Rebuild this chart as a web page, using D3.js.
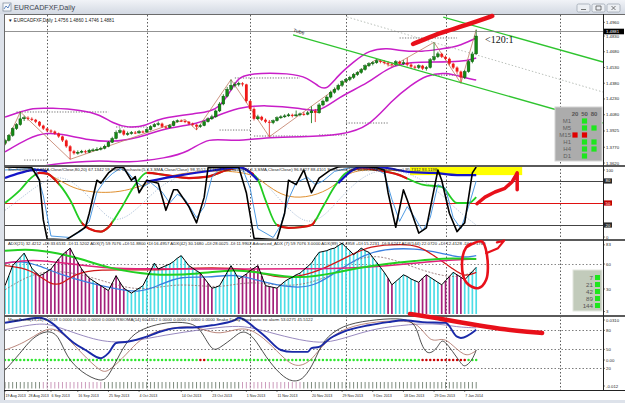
<!DOCTYPE html>
<html>
<head>
<meta charset="utf-8">
<script src="https://cdnjs.cloudflare.com/ajax/libs/d3/7.8.5/d3.min.js"></script>
<style>
html, body { margin: 0; padding: 0; background: #dde2ea; overflow: hidden; }
svg { display: block; }
</style>
</head>
<body>
<div id="chart"></div>
<script>
// --- candles (EURCADFXF daily, 19 Aug 2013 .. 10 Jan 2014)
var firstOpen = 1.3807;
var closes = [
  1.3835,1.3882,1.3948,1.3985,1.4041,1.4051,1.4041,1.4032,1.4013,1.3976,
  1.3948,1.3929,1.3920,1.3901,1.3873,1.3835,1.3779,1.3732,1.3713,1.3723,
  1.3732,1.3723,1.3742,1.3745,1.3751,1.3760,1.3779,1.3817,1.3854,1.3910,
  1.3929,1.3891,1.3901,1.3910,1.3906,1.3920,1.3915,1.3938,1.3966,1.3985,
  1.3995,1.3966,1.3957,1.3976,1.4013,1.4023,1.4020,1.4013,1.3995,1.3985,
  1.3966,1.3976,1.4013,1.4041,1.4060,1.4116,1.4182,1.4257,1.4322,1.4360,
  1.4369,1.4379,1.4369,1.4210,1.4135,1.4041,1.4060,1.4032,1.4013,1.4004,
  1.4023,1.4051,1.4060,1.4069,1.4079,1.4069,1.4079,1.4088,1.4085,1.4098,
  1.4116,1.4098,1.4173,1.4210,1.4248,1.4294,1.4322,1.4360,1.4397,1.4416,
  1.4435,1.4463,1.4482,1.4510,1.4547,1.4566,1.4575,1.4594,1.4585,1.4575,
  1.4566,1.4557,1.4585,1.4566,1.4575,1.4557,1.4538,1.4529,1.4547,1.4519,
  1.4529,1.4604,1.4632,1.4660,1.4632,1.4613,1.4566,1.4529,1.4491,1.4435,
  1.4491,1.4585,1.4660,1.4830
];
var highs = [
  1.3850,1.3895,1.3960,1.4000,1.4107,1.4070,1.4065,1.4055,1.4040,1.4020,
  1.3985,1.3955,1.3940,1.3930,1.3910,1.3880,1.3845,1.3790,1.3745,1.3740,
  1.3745,1.3745,1.3755,1.3760,1.3770,1.3775,1.3795,1.3830,1.3870,1.3930,
  1.3950,1.3940,1.3920,1.3925,1.3925,1.3935,1.3930,1.3950,1.3980,1.4000,
  1.4015,1.4005,1.3975,1.3990,1.4025,1.4035,1.4035,1.4030,1.4020,1.4005,
  1.3990,1.3990,1.4025,1.4055,1.4080,1.4130,1.4200,1.4275,1.4345,1.4415,
  1.4390,1.4395,1.4390,1.4375,1.4220,1.4150,1.4080,1.4070,1.4045,1.4030,
  1.4035,1.4065,1.4075,1.4085,1.4095,1.4090,1.4120,1.4100,1.4105,1.4115,
  1.4160,1.4135,1.4190,1.4225,1.4265,1.4310,1.4340,1.4375,1.4410,1.4430,
  1.4450,1.4478,1.4495,1.4525,1.4560,1.4580,1.4590,1.4610,1.4605,1.4600,
  1.4590,1.4580,1.4600,1.4595,1.4600,1.4620,1.4570,1.4550,1.4560,1.4555,
  1.4545,1.4620,1.4770,1.4680,1.4670,1.4645,1.4625,1.4575,1.4540,1.4500,
  1.4505,1.4600,1.4680,1.4890
];
var lows = [
  1.3790,1.3825,1.3870,1.3935,1.3975,1.4020,1.4025,1.4020,1.4000,1.3965,
  1.3935,1.3915,1.3905,1.3890,1.3860,1.3820,1.3765,1.3655,1.3700,1.3700,
  1.3712,1.3710,1.3715,1.3730,1.3735,1.3740,1.3750,1.3770,1.3810,1.3845,
  1.3900,1.3880,1.3880,1.3890,1.3895,1.3900,1.3905,1.3910,1.3930,1.3960,
  1.3975,1.3955,1.3945,1.3950,1.3970,1.4005,1.4010,1.4000,1.3985,1.3970,
  1.3935,1.3955,1.3970,1.4005,1.4030,1.4050,1.4105,1.4170,1.4245,1.4310,
  1.4340,1.4350,1.4350,1.4195,1.4120,1.4025,1.4030,1.4020,1.4000,1.3870,
  1.3990,1.4015,1.4040,1.4050,1.4060,1.4055,1.4060,1.4065,1.4070,1.4075,
  1.4000,1.4010,1.4090,1.4160,1.4200,1.4235,1.4280,1.4310,1.4345,1.4385,
  1.4400,1.4420,1.4450,1.4470,1.4500,1.4535,1.4550,1.4565,1.4570,1.4560,
  1.4540,1.4540,1.4545,1.4550,1.4555,1.4540,1.4525,1.4510,1.4515,1.4505,
  1.4500,1.4520,1.4590,1.4620,1.4620,1.4600,1.4550,1.4515,1.4470,1.4380,
  1.4420,1.4480,1.4570,1.4650
];

// --- main panel overlays [bar, price]
var bbUpper = [[0,1.4058],[4,1.4106],[7,1.4144],[12,1.4144],[20,1.4125],[25,1.4077],[28,1.4001],[32,1.3953],[37,1.3972],[40,1.4049],[51,1.4096],[56,1.4125],[60,1.4382],[62,1.4477],[75,1.4477],[79,1.4430],[82,1.4344],[84,1.4315],[87,1.4458],[91,1.4582],[95,1.4697],[100,1.4716],[103,1.4690],[109,1.4678],[114,1.4710],[118,1.4725],[123,1.4811]];
var bbMid = [[0,1.3725],[6,1.3858],[11,1.3915],[16,1.3887],[22,1.3839],[27,1.3820],[32,1.3839],[37,1.3887],[42,1.3953],[49,1.3982],[54,1.4049],[61,1.4153],[68,1.4172],[77,1.4144],[82,1.4096],[87,1.4249],[95,1.4382],[100,1.4535],[106,1.4582],[112,1.4582],[119,1.4582],[123,1.4620]];
var bbLower = [[0,1.3420],[5,1.3520],[10,1.3601],[16,1.3620],[25,1.3648],[32,1.3620],[42,1.3667],[48,1.3725],[53,1.3867],[60,1.3820],[68,1.3867],[77,1.3867],[88,1.3887],[95,1.3963],[101,1.4220],[106,1.4363],[110,1.4458],[115,1.4487],[120,1.4430],[123,1.4411]];
var channelSteps = [[3,27,1.4106],[29,37,1.3963],[5,11,1.3648],[56,64,1.3934],[65,79,1.3877],[60,77,1.4430],[82,89,1.3887],[89,100,1.4001],[103,118,1.4811],[111,119,1.4458]];
var zigzag = [[0,1.3790],[4,1.4107],[17,1.3655],[47,1.4035],[50,1.3935],[59,1.4415],[69,1.3870],[97,1.4610],[101,1.4540],[112,1.4770],[119,1.4380],[123,1.4890]];
var trendUpper = [[114.4,1.5011],[156.1,1.4582]];
var trendLower = [[75.2,1.4840],[156.1,1.4001]];
var trendMiddle = [[89.3,1.5011],[156.1,1.4296]];
var priceTicks = [1.4960,1.4830,1.4680,1.4530,1.4380,1.4230,1.4080,1.3925,1.3770,1.3620];
var bidPrice = 1.4881;

// --- stochastic panel [bar, value]
var stochFast = [[0,99],[7,98],[9,81],[10,27],[11,1],[16,0],[19,10],[21,17],[22,36],[24,81],[25,77],[27,91],[29,99],[31,98],[33,81],[34,86],[35,64],[37,81],[40,77],[42,40],[44,68],[45,68],[48,45],[50,23],[52,58],[53,98],[61,99],[63,64],[65,2],[71,0],[73,36],[74,81],[76,75],[78,95],[80,64],[82,84],[85,95],[87,99],[90,100],[95,99],[97,98],[99,95],[100,64],[102,17],[104,68],[105,54],[108,9],[110,16],[113,95],[114,81],[116,36],[118,11],[120,23],[122,91],[123,99]];
var stochSignal = [[0,95],[8,97],[10,60],[12,5],[17,3],[20,12],[22,25],[24,65],[26,80],[28,90],[30,97],[32,92],[34,80],[36,72],[38,78],[41,65],[43,50],[45,62],[47,55],[50,30],[52,45],[54,85],[56,97],[62,97],[64,70],[66,15],[70,3],[72,20],[74,55],[76,78],[79,85],[81,75],[83,80],[86,93],[90,98],[96,98],[99,90],[101,55],[103,25],[105,45],[107,30],[109,12],[111,30],[113,75],[115,70],[117,30],[119,15],[121,45],[123,80]];
var stochSlow = [[0,50],[4,68],[7,85],[9,91],[11,90],[13,82],[17,54],[20,23],[22,15],[25,11],[27,17],[30,40],[34,75],[37,91],[42,88],[48,84],[53,86],[58,95],[61,98],[64,92],[66,82],[68,54],[71,20],[74,16],[77,17],[80,20],[83,45],[86,72],[89,91],[93,97],[97,95],[103,88],[106,81],[109,75],[114,72],[118,50],[121,50],[123,58]];
var stochSlowRed = [[8,14],[20,28],[37,65],[71,81],[90,105]];
var stochOrange = [[10,91],[13,85],[17,72],[21,66],[25,64],[30,65],[35,72],[40,82],[45,90],[55,95],[64,91],[67,80],[70,68],[74,57],[80,58],[86,72],[89,91],[95,97],[105,93],[112,90],[118,88],[123,88]];
var stochLong = [[0,40],[5,60],[10,80],[15,88],[20,70],[25,40],[28,25],[32,30],[37,55],[42,80],[50,95],[60,97],[66,88],[70,65],[76,30],[80,22],[84,35],[88,60],[94,90],[100,97],[106,90],[112,72],[118,40],[123,20]];
var stochBlue = [
  [[0,84],[4,91],[8,95],[11,93]],
  [[37,79],[46,88],[55,95],[61,99],[66,81]],
  [[87,77],[93,99],[99,98],[106,92],[112,91],[118,88],[123,88]]
];
var stochTicks = [100,80,50,20,0];

// --- ADX panel
var adxHist = [
  34,46,58,63,68,73,64,55,50,46,
  48,51,54,60,66,71,75,79,70,62,
  54,48,43,40,37,34,31,28,37,46,
  38,31,28,25,28,31,34,43,52,61,
  54,56,58,60,63,67,70,64,58,55,
  52,49,43,37,31,32,34,42,50,58,
  50,42,45,48,52,55,58,46,34,33,
  32,31,35,39,42,44,47,49,53,57,
  61,68,74,75,76,78,79,82,85,80,
  76,71,75,79,76,74,68,62,56,50,
  43,35,39,43,47,45,42,40,38,43,
  47,44,41,38,35,40,45,50,47,44,
  41,46,51,56
];
var adxBearRanges = [[8,22],[24,31],[51,54],[61,71],[100,101],[108,110],[114,116],[118,119]];
var adxGreen = [[0,76],[7,78],[14,73],[20,66],[27,55],[38,46],[51,48],[60,54],[67,49],[77,42],[86,49],[95,58],[108,64],[114,67],[123,66]];
var adxPink = [[0,61],[7,66],[16,61],[25,55],[38,54],[51,54],[64,54],[77,54],[95,55],[112,64],[123,66]];
var adxRed = [[0,58],[7,54],[12,34],[15,36],[18,48],[24,54],[38,52],[51,56],[60,55],[64,53],[70,44],[77,44],[84,56],[90,70],[95,82],[104,84],[108,82],[112,70],[117,54],[120,44],[123,50]];
var adxBlue = [[0,61],[4,64],[9,58],[14,48],[22,37],[28,31],[35,25],[40,34],[46,46],[53,43],[60,49],[68,37],[77,30],[82,37],[86,49],[93,70],[99,78],[107,79],[114,73],[119,67],[123,70]];
var adxDash = [[0,29],[7,49],[15,53],[25,41],[35,26],[45,38],[56,30],[64,41],[75,30],[86,47],[90,62],[97,74],[108,53],[118,41],[123,53]];
var adxTicks = [83,60,30,3];

// --- bottom panel
var botNavy = [[0,92],[4,96],[9,100],[13,88],[15,76],[18,60],[21,49],[25,36],[27,44],[29,60],[32,62],[37,70],[40,77],[45,84],[50,85],[54,88],[60,96],[61,100],[65,85],[68,70],[72,49],[75,46],[79,46],[80,52],[82,54],[85,68],[88,77],[95,88],[100,93],[104,96],[109,93],[115,92],[118,70],[119,68],[123,81]];
var botPurple = [[0,81],[9,92],[13,88],[25,60],[33,62],[42,73],[51,81],[60,88],[65,84],[73,70],[81,60],[86,62],[95,81],[103,88],[112,92],[118,85],[123,84]];
var botBlack = [[0,17],[4,44],[7,68],[11,81],[14,73],[16,38],[20,13],[25,-2],[27,6],[30,44],[33,73],[37,85],[42,93],[48,93],[51,84],[54,46],[56,52],[60,70],[62,81],[65,70],[68,38],[72,9],[75,-2],[78,2],[81,33],[83,65],[88,88],[95,96],[103,100],[107,93],[108,70],[110,38],[113,52],[114,68],[116,54],[119,28],[120,21],[122,33],[123,49]];
var botBrown = [[0,49],[5,60],[10,81],[13,84],[16,70],[20,44],[25,14],[27,14],[32,44],[35,65],[40,81],[48,88],[52,81],[56,73],[61,84],[65,81],[70,54],[74,28],[77,22],[80,33],[82,50],[87,81],[95,93],[103,96],[108,92],[111,60],[114,68],[116,62],[120,38],[122,44],[123,48]];
var redDotRanges = [[51,52],[109,120]];
var pinkTickRanges = [[10,25],[62,77]];
var botOscTicks = [80,50,20];
var botMacdTicks = [0.0310,0,-0.012];

// --- time axis
var dateLabels = ['19 Aug 2013','28 Aug 2013','6 Sep 2013','16 Sep 2013','25 Sep 2013','4 Oct 2013','14 Oct 2013','23 Oct 2013','1 Nov 2013','11 Nov 2013','20 Nov 2013','29 Nov 2013','9 Dec 2013','18 Dec 2013','29 Dec 2013','7 Jan 2014'];
var dateBars = [0,6,12,19,27,35,46,54,63,71,80,88,96,104,112,120];
var gridBars = [11,37,64,89,115,145];

// --- panel widgets
var mtfRows = ['M1','M5','M15','H1','H4','D1'];
var mtfCols = ['20','50','80'];
var mtfState = [[0,1,0],[0,1,1],[2,2,0],[0,1,1],[0,1,1],[0,1,0]];
var adxPeriods = ['7','21','42','89','144'];

// --- hand drawn marks
var markMain = [[106.5,1.4754],[109.7,1.4801],[113.6,1.4859],[118.8,1.4916],[123.5,1.4973],[127.2,1.5021]];
var markStoch = [[123.2,49],[125.3,58],[127.9,65],[130.5,70],[132.4,79],[133.4,88],[133.7,91],[133.7,68]];
var markAdxRing = [[120.4,80],[124.5,87],[125.8,71],[125.6,41],[123.5,31],[120.4,38],[119.3,62],[120.4,80],[121.5,84]];
var markAdxArrow = [[125.6,73],[128.7,79],[130.3,88],[128.4,86]];
var markBottom = [[105.7,106],[114.1,98],[121.4,90],[129.2,82],[137.1,77.4],[140.2,75.8]];

var FONT = 'Liberation Sans, Arial, sans-serif';

var Chart = {

  draw: function() {
    this.svg = d3.select('#chart').append('svg')
      .attr('width', 625)
      .attr('height', 403)
    ;
    this.defs = this.svg.append('defs');
    this.x = d3.scaleLinear().domain([0, 156.1]).range([5, 603]);
    this.yP = d3.scaleLinear().domain([1.3620, 1.4830]).range([163, 36]);
    this.yS = d3.scaleLinear().domain([0, 100]).range([239.7, 166.3]);
    this.yA = d3.scaleLinear().domain([0, 90]).range([314, 239]);
    this.yB = d3.scaleLinear().domain([0, 100]).range([381, 317.7]);
    this.yM = d3.scaleLinear().domain([-0.012, 0, 0.031]).range([386, 360, 319]);
    this.panels = { main: [15, 165], stoch: [167, 239], adx: [241, 315], bot: [317, 390] };

    this.drawFrame();
    this.drawGrid();
    this.drawMain();
    this.drawStoch();
    this.drawAdx();
    this.drawBottom();
    this.drawAxes();
    this.drawMarks();
  },

  clip: function(id, p) {
    this.defs.append('clipPath').attr('id', id)
      .append('rect')
      .attr('x', 5).attr('y', p[0])
      .attr('width', 598).attr('height', p[1] - p[0])
    ;
    return this.svg.append('g').attr('clip-path', 'url(#' + id + ')');
  },

  line: function(g, data, ys, color, width, curve, dash) {
    var x = this.x;
    return g.append('path').datum(data)
      .attr('d', d3.line()
        .x(function(d){ return x(d[0]); })
        .y(function(d){ return ys(d[1]); })
        .curve(curve || d3.curveMonotoneX))
      .attr('fill', 'none')
      .attr('stroke', color)
      .attr('stroke-width', width)
      .attr('stroke-dasharray', dash || null)
      .attr('stroke-linejoin', 'round')
    ;
  },

  tinyText: function(x, y, s, size, color, anchor) {
    return this.svg.append('text')
      .attr('x', x).attr('y', y)
      .attr('font-family', FONT)
      .attr('font-size', size)
      .attr('fill', color || '#222')
      .attr('text-anchor', anchor || 'start')
      .text(s)
    ;
  },

  drawFrame: function() {
    var svg = this.svg;
    var grad = this.defs.append('linearGradient').attr('id', 'tb')
      .attr('x1', 0).attr('y1', 0).attr('x2', 0).attr('y2', 1);
    grad.append('stop').attr('offset', '0%').attr('stop-color', '#f1f3f7');
    grad.append('stop').attr('offset', '100%').attr('stop-color', '#d3d9e3');
    svg.append('rect').attr('x', 0).attr('y', 0).attr('width', 625).attr('height', 403).attr('fill', '#dde2ea');
    svg.append('rect').attr('x', 0).attr('y', 0).attr('width', 625).attr('height', 14).attr('fill', 'url(#tb)');
    // title icon + caption
    svg.append('rect').attr('x', 3).attr('y', 3).attr('width', 8).attr('height', 8)
      .attr('fill', '#f6f8fb').attr('stroke', '#7a8696').attr('stroke-width', 0.7);
    svg.append('path').attr('d', 'M4,9 L6,6 L8,8 L10,4').attr('fill', 'none')
      .attr('stroke', '#3a6ab0').attr('stroke-width', 0.8);
    this.tinyText(14, 10, 'EURCADFXF,Daily', 7.2, '#3c4450');
    // window buttons
    [577, 592, 607].forEach(function(bx, k) {
      svg.append('rect').attr('x', bx).attr('y', 4).attr('width', 13).attr('height', 8).attr('rx', 1.5)
        .attr('fill', '#eceff3').attr('stroke', '#98a2ae').attr('stroke-width', 0.7);
      var d = k === 0 ? 'M' + (bx+4) + ',9.5 h5' :
              k === 1 ? 'M' + (bx+4) + ',6 h5 v4 h-5 z' :
                        'M' + (bx+4.5) + ',6 l4,4 M' + (bx+8.5) + ',6 l-4,4';
      svg.append('path').attr('d', d).attr('fill', 'none').attr('stroke', '#555').attr('stroke-width', 0.8);
    });
    // chart area
    svg.append('rect').attr('x', 4).attr('y', 14).attr('width', 621).attr('height', 386).attr('fill', '#fff');
    svg.append('line').attr('x1', 4.5).attr('x2', 4.5).attr('y1', 14).attr('y2', 400).attr('stroke', '#6b6b6b');
    svg.append('line').attr('x1', 4).attr('x2', 625).attr('y1', 14.5).attr('y2', 14.5).attr('stroke', '#6b6b6b');
  },

  drawGrid: function() {
    var x = this.x, svg = this.svg;
    svg.selectAll('line.vgrid').data(gridBars).enter()
      .append('line').classed('vgrid', true)
      .attr('x1', function(d){ return Math.round(x(d)) + 0.5; })
      .attr('x2', function(d){ return Math.round(x(d)) + 0.5; })
      .attr('y1', 15).attr('y2', 390)
      .attr('stroke', '#333')
      .attr('stroke-width', 0.8)
      .attr('stroke-dasharray', '1.5,2')
    ;
  },

  drawMain: function() {
    var self = this, x = this.x, yP = this.yP;
    var g = this.clip('clipMain', this.panels.main);

    // channel steps (dotted)
    g.selectAll('line.step').data(channelSteps).enter()
      .append('line').classed('step', true)
      .attr('x1', function(d){ return x(d[0]); })
      .attr('x2', function(d){ return x(d[1]); })
      .attr('y1', function(d){ return yP(d[2]); })
      .attr('y2', function(d){ return yP(d[2]); })
      .attr('stroke', '#333').attr('stroke-width', 0.7).attr('stroke-dasharray', '1.2,1.5')
    ;
    // bollinger
    this.line(g, bbUpper, yP, '#c81ec8', 1.5, d3.curveBasis);
    this.line(g, bbMid, yP, '#c81ec8', 1.5, d3.curveBasis);
    this.line(g, bbLower, yP, '#c81ec8', 1.5, d3.curveBasis);
    // zigzag
    this.line(g, zigzag, yP, '#c07a62', 0.8, d3.curveLinear);

    // candles
    var bars = closes.map(function(c, i) {
      var o = i === 0 ? firstOpen : closes[i - 1];
      return { i: i, o: o, c: c, h: highs[i], l: lows[i], up: c >= o };
    });
    var cg = g.selectAll('g.candle').data(bars).enter().append('g').classed('candle', true);
    cg.append('line')
      .attr('x1', function(d){ return x(d.i); })
      .attr('x2', function(d){ return x(d.i); })
      .attr('y1', function(d){ return yP(d.h); })
      .attr('y2', function(d){ return yP(d.l); })
      .attr('stroke', function(d){ return d.up ? '#0b6e0b' : '#e01010'; })
      .attr('stroke-width', 0.8)
    ;
    cg.append('rect')
      .attr('x', function(d){ return x(d.i) - 1.4; })
      .attr('width', 2.8)
      .attr('y', function(d){ return yP(Math.max(d.o, d.c)); })
      .attr('height', function(d){ return Math.max(1, Math.abs(yP(d.o) - yP(d.c))); })
      .attr('fill', function(d){ return d.up ? '#138a13' : '#f01818'; })
      .attr('stroke', function(d){ return d.up ? '#0a4a0a' : 'none'; })
      .attr('stroke-width', 0.4)
    ;

    // trend channel
    this.line(g, trendUpper, yP, '#2fc42f', 1.3, d3.curveLinear);
    this.line(g, trendLower, yP, '#2fc42f', 1.3, d3.curveLinear);
    this.line(g, trendMiddle, yP, '#a8b0a8', 0.8, d3.curveLinear, '1.5,2');

    // bid line
    this.svg.append('line')
      .attr('x1', 5).attr('x2', 603)
      .attr('y1', Math.round(yP(bidPrice)) + 0.5).attr('y2', Math.round(yP(bidPrice)) + 0.5)
      .attr('stroke', '#777').attr('stroke-width', 0.8)
    ;

    this.tinyText(8, 22, '\u25BC EURCADFXF,Daily  1.4756 1.4860 1.4746 1.4881', 4.6, '#222');
    this.svg.append('text')
      .attr('transform', 'translate(' + x(75.2) + ',' + (yP(1.4860) - 1) + ') rotate(14)')
      .attr('font-family', FONT).attr('font-size', 5).attr('fill', '#222')
      .text('Tube')
    ;
    this.svg.append('text')
      .attr('x', x(125.3)).attr('y', yP(1.4792) + 3)
      .attr('font-family', 'Liberation Serif, Times New Roman, serif')
      .attr('font-size', 10).attr('fill', '#111')
      .text('<120:1')
    ;

    // MTF stochastic box
    var bx = 555, by = 107;
    var colX = [575, 584.5, 594];
    this.svg.append('rect').attr('x', bx).attr('y', by).attr('width', 47).attr('height', 54)
      .attr('fill', '#acacac').attr('stroke', '#d4d4d4').attr('stroke-width', 1);
    mtfCols.forEach(function(c, k) {
      self.tinyText(colX[k], by + 8.5, c, 6, '#555', 'middle').attr('font-weight', 'bold');
    });
    mtfRows.forEach(function(r, j) {
      var ry = by + 14 + j * 7;
      self.tinyText(571, ry + 2.2, r, 6, '#5e5e5e', 'end');
      mtfState[j].forEach(function(s, k) {
        if (!s) { return; }
        self.svg.append('rect').attr('x', colX[k] - 2.6).attr('y', ry - 2.6)
          .attr('width', 5.2).attr('height', 5.2)
          .attr('fill', s === 1 ? '#1ee61e' : '#e00000');
      });
    });
  },

  drawStoch: function() {
    var self = this, x = this.x, yS = this.yS;
    var g = this.clip('clipStoch', this.panels.stoch);

    g.append('rect').attr('x', x(105.7)).attr('y', yS(99)).attr('width', x(135) - x(105.7)).attr('height', yS(88) - yS(99))
      .attr('fill', '#ffff00');

    [[80, '#444'], [50, '#e01010'], [20, '#444']].forEach(function(l) {
      g.append('line').attr('x1', 5).attr('x2', 603)
        .attr('y1', Math.round(yS(l[0])) + 0.5).attr('y2', Math.round(yS(l[0])) + 0.5)
        .attr('stroke', l[1]).attr('stroke-width', 1);
    });

    this.line(g, stochLong, yS, '#8aa6c8', 0.8, d3.curveBasis, '1,1.5');
    this.line(g, stochOrange, yS, '#e09030', 1, d3.curveBasis);
    this.line(g, stochSlow, yS, '#22cc22', 1.8, d3.curveMonotoneX);
    // red parts of the slow line
    var cp = this.defs.append('clipPath').attr('id', 'slowRed');
    stochSlowRed.forEach(function(r) {
      cp.append('rect').attr('x', x(r[0])).attr('y', 160).attr('width', x(r[1]) - x(r[0])).attr('height', 85);
    });
    this.line(g.append('g').attr('clip-path', 'url(#slowRed)'), stochSlow, yS, '#e01010', 2.2, d3.curveMonotoneX);
    this.line(g, stochSignal, yS, '#3a8ee0', 0.9, d3.curveLinear);
    stochBlue.forEach(function(seg) {
      self.line(g, seg, yS, '#1414c8', 2.2, d3.curveMonotoneX);
    });
    this.line(g, stochFast, yS, '#000', 1.6, d3.curveLinear);

    this.tinyText(8, 171, 'Stochastic(5,3,3,SMA,Close/Close,80,20) 67.1342 59.9986   Stochastic(5,3,3,SMA,Close/Close) 98.3512 93.1154   Stochastic(14,3,3,SMA,Close/Close) 96.8427 88.4101   Stochastic(100,10,10,SMA,Close/Close) 95.7312 93.1198', 4.3, '#222');
  },

  drawAdx: function() {
    var self = this, x = this.x, yA = this.yA;
    var g = this.clip('clipAdx', this.panels.adx);

    g.append('line').attr('x1', 5).attr('x2', 603)
      .attr('y1', Math.round(yA(60)) + 0.5).attr('y2', Math.round(yA(60)) + 0.5)
      .attr('stroke', '#555').attr('stroke-width', 0.7).attr('stroke-dasharray', '1.5,2');

    var bear = function(i) {
      return adxBearRanges.some(function(r){ return i >= r[0] && i <= r[1]; });
    };
    g.selectAll('line.hist').data(adxHist).enter()
      .append('line').classed('hist', true)
      .attr('x1', function(d, i){ return x(i); })
      .attr('x2', function(d, i){ return x(i); })
      .attr('y1', yA(0))
      .attr('y2', function(d){ return yA(d); })
      .attr('stroke', function(d, i){ return bear(i) ? '#a3207a' : '#4cdde6'; })
      .attr('stroke-width', 1.7)
    ;

    this.line(g, adxDash, yA, '#8a6a6a', 0.8, d3.curveBasis, '2,1.5');
    this.line(g, adxBlue, yA, '#3a7fe0', 1.3, d3.curveBasis);
    this.line(g, adxRed, yA, '#d01818', 1.3, d3.curveBasis);
    this.line(g, adxPink, yA, '#e0207a', 1.5, d3.curveBasis);
    this.line(g, adxGreen, yA, '#22d022', 2, d3.curveBasis);
    this.line(g, adxHist.map(function(v, i){ return [i, v]; }), yA, '#000', 1, d3.curveLinear);

    this.tinyText(8, 245, 'ADX(21) 32.4212 +DI:33.6531 -DI:11.5202   ADX(7) 59.7076 +DI:51.8800 -DI:16.4957   ADX(42) 30.1680 +DI:28.0025 -DI:11.9902   Advanced_ADX (7) 59.7076 3.0000   ADX(89) 24.4958 +DI:15.2231 -DI:9.6247   ADX(144) 22.0720 +DI:12.4128 -DI:13.1769', 4.3, '#222');

    // period box
    var bx = 573, by = 270;
    this.svg.append('rect').attr('x', bx).attr('y', by).attr('width', 29).attr('height', 41)
      .attr('fill', '#c2cbbb').attr('stroke', '#e2e6de').attr('stroke-width', 1);
    adxPeriods.forEach(function(p, j) {
      var ry = by + 7.5 + j * 7;
      self.tinyText(593, ry + 2.2, p, 6.2, '#555', 'end');
      self.svg.append('rect').attr('x', 595).attr('y', ry - 2.5).attr('width', 5).attr('height', 5).attr('fill', '#1ee61e');
    });
  },

  drawBottom: function() {
    var x = this.x, yB = this.yB, yM = this.yM;
    var g = this.clip('clipBot', this.panels.bot);

    botOscTicks.forEach(function(v) {
      g.append('line').attr('x1', 5).attr('x2', 603)
        .attr('y1', Math.round(yB(v)) + 0.5).attr('y2', Math.round(yB(v)) + 0.5)
        .attr('stroke', '#444').attr('stroke-width', 0.7).attr('stroke-dasharray', '1.5,2');
    });

    var inRange = function(ranges, i) {
      return ranges.some(function(r){ return i >= r[0] && i <= r[1]; });
    };
    g.selectAll('circle.dot').data(closes).enter()
      .append('circle').classed('dot', true)
      .attr('cx', function(d, i){ return x(i); })
      .attr('cy', yM(0))
      .attr('r', 1.25)
      .attr('fill', function(d, i){ return inRange(redDotRanges, i) ? '#c80000' : '#2ee62e'; })
    ;
    g.selectAll('line.tick').data(closes).enter()
      .append('line').classed('tick', true)
      .attr('x1', function(d, i){ return x(i); })
      .attr('x2', function(d, i){ return x(i); })
      .attr('y1', 382).attr('y2', 388.5)
      .attr('stroke', function(d, i){ return inRange(pinkTickRanges, i) ? '#c690b4' : '#6f7f6f'; })
      .attr('stroke-width', 0.9)
    ;

    this.line(g, botPurple, yB, '#8c7cb8', 0.9, d3.curveBasis);
    this.line(g, botBrown, yB, '#a8685c', 0.8, d3.curveBasis);
    this.line(g, botBlack, yB, '#222', 0.8, d3.curveBasis);
    this.line(g, botNavy, yB, '#1a2aa8', 1.9, d3.curveMonotoneX);

    this.tinyText(8, 321, 'MegaTrend(13,24) 0.0018 0.0000 0.0000 0.0000 0.0000   RSIOMA(14) 60.4312 0.0000 0.0000 0.0000 0.0000   Snake Delay Stochastic no alarm 53.0271 45.5122', 4.3, '#222');
  },

  drawAxes: function() {
    var self = this, svg = this.svg, x = this.x;
    // panel separators
    [165, 239, 315].forEach(function(yy) {
      svg.append('rect').attr('x', 4).attr('y', yy).attr('width', 621).attr('height', 2).attr('fill', '#5a5a5a');
    });
    svg.append('line').attr('x1', 603.5).attr('x2', 603.5).attr('y1', 14).attr('y2', 390).attr('stroke', '#222');
    svg.append('line').attr('x1', 4).attr('x2', 625).attr('y1', 390.5).attr('y2', 390.5).attr('stroke', '#222');

    var clampY = function(v, p) { return Math.max(p[0] + 3, Math.min(p[1] - 2, v)); };
    var label = function(yy, s) {
      svg.append('line').attr('x1', 603).attr('x2', 605).attr('y1', yy).attr('y2', yy).attr('stroke', '#222').attr('stroke-width', 0.6);
      self.tinyText(606, yy + 1.5, s, 4.3, '#222');
    };
    priceTicks.forEach(function(v) {
      label(clampY(self.yP(v), [17, 165]), v.toFixed(4));
    });
    stochTicks.forEach(function(v) {
      label(clampY(self.yS(v), self.panels.stoch), String(v));
    });
    adxTicks.forEach(function(v) {
      label(clampY(self.yA(v), self.panels.adx), String(v));
    });
    botOscTicks.forEach(function(v) {
      label(self.yB(v), String(v));
    });
    botMacdTicks.forEach(function(v) {
      label(clampY(self.yM(v), self.panels.bot), v === 0 ? '0.00' : (v > 0 ? v.toFixed(4) : v.toFixed(3)));
    });

    // stochastic level boxes
    [[80, '#2a2a2a'], [50, '#c00000'], [20, '#2a2a2a']].forEach(function(l) {
      var yy = self.yS(l[0]);
      svg.append('rect').attr('x', 604).attr('y', yy - 2.6).attr('width', 8).attr('height', 5.2).attr('fill', l[1]);
      self.tinyText(605.5, yy + 1.5, String(l[0]), 4.3, '#fff');
    });
    // bid price box
    var by = Math.round(this.yP(bidPrice)) + 0.5;
    svg.append('rect').attr('x', 604).attr('y', by - 2.8).attr('width', 20).attr('height', 5.6).attr('fill', '#000');
    this.tinyText(606, by + 1.6, bidPrice.toFixed(4), 4.3, '#fff');

    // dates
    dateLabels.forEach(function(s, k) {
      var xx = x(dateBars[k]);
      svg.append('line').attr('x1', xx).attr('x2', xx).attr('y1', 390).attr('y2', 392).attr('stroke', '#222').attr('stroke-width', 0.6);
      self.tinyText(xx + 0.5, 397, s, 3.6, '#222');
    });
  },

  drawMarks: function() {
    var g = this.svg.append('g')
      .attr('fill', 'none')
      .attr('stroke-linecap', 'round')
      .attr('stroke-linejoin', 'round')
    ;
    this.line(g, markMain, this.yP, '#e8101a', 4.5, d3.curveBasis);
    this.line(g, markStoch, this.yS, '#e8101a', 3.5, d3.curveLinear);
    this.line(g, markAdxRing, this.yA, '#e8101a', 2.6, d3.curveCatmullRom);
    this.line(g, markAdxArrow, this.yA, '#e8101a', 2.2, d3.curveLinear);
    this.line(g, markBottom, this.yB, '#e8101a', 4.5, d3.curveBasis);
    g.selectAll('path').attr('stroke-linecap', 'round');
  }

};

Chart.draw();
</script>
</body>
</html>
